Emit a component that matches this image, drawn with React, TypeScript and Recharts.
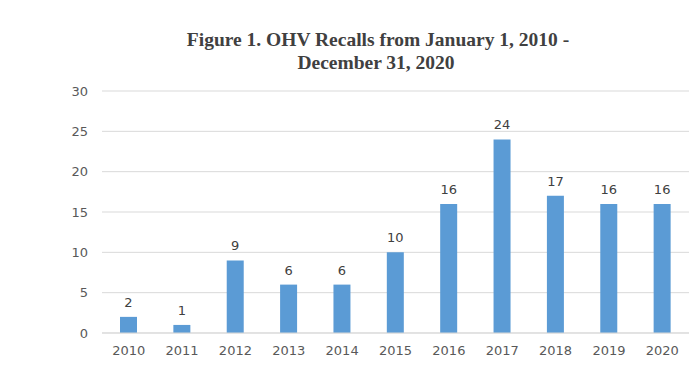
import { Bar, BarChart, CartesianGrid, LabelList, XAxis, YAxis } from 'recharts';

const years = ['2010', '2011', '2012', '2013', '2014', '2015', '2016', '2017', '2018', '2019', '2020'];
const recalls = [2, 1, 9, 6, 6, 10, 16, 24, 17, 16, 16];
const yTicks = [0, 5, 10, 15, 20, 25, 30];

const data = years.map((year, i) => ({ year, recalls: recalls[i] }));

const tickStyle = { fontSize: 13, fill: '#595959', fontFamily: '"DejaVu Sans", sans-serif' };

export default function App() {
  return (
    <div style={{ position: 'absolute', left: 0, top: 0, width: 700, height: 383, background: '#fff' }}>
      <svg width={700} height={80} style={{ position: 'absolute', left: 0, top: 0 }}>
        <text x={378} y={46} textAnchor="middle" fontFamily='"Liberation Serif", serif' fontWeight="bold" fontSize={19.5} fill="#404040">
          Figure 1. OHV Recalls from January 1, 2010 -
        </text>
        <text x={376} y={69} textAnchor="middle" fontFamily='"Liberation Serif", serif' fontWeight="bold" fontSize={19.5} fill="#404040">
          December 31, 2020
        </text>
      </svg>
      <BarChart
        width={700}
        height={383}
        data={data}
        margin={{ top: 91, right: 11, left: 0, bottom: 20 }}
        barSize={17}
        style={{ position: 'absolute', left: 0, top: 0 }}
      >
        <CartesianGrid vertical={false} stroke="#d9d9d9" />
        <XAxis dataKey="year" tick={tickStyle} tickLine={false} axisLine={{ stroke: '#d9d9d9' }} tickMargin={7} height={30} />
        <YAxis domain={[0, 30]} ticks={yTicks} tick={tickStyle} tickLine={false} axisLine={false} width={102} tickMargin={8} />
        <Bar dataKey="recalls" fill="#5b9bd5" isAnimationActive={false}>
          <LabelList dataKey="recalls" position="top" offset={10} style={{ ...tickStyle, fill: '#404040' }} />
        </Bar>
      </BarChart>
    </div>
  );
}
